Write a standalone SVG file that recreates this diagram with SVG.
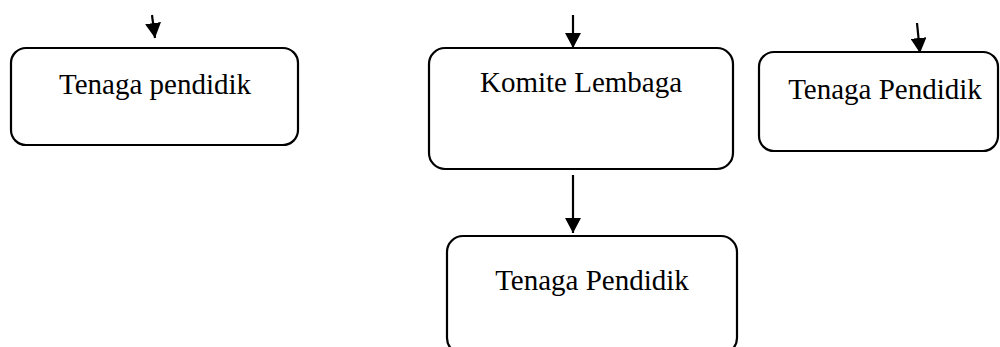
<svg xmlns="http://www.w3.org/2000/svg" width="1000" height="347" viewBox="0 0 1000 347">
<defs>
<style>
.box{fill:#fff;stroke:#000;stroke-width:2.2}
.lbl{font-family:"Liberation Serif","Times New Roman",serif;font-size:29px;fill:#000;text-anchor:middle}
.conn{stroke:#000;stroke-width:2.2;fill:none}
</style>
<marker id="ah" markerUnits="userSpaceOnUse" markerWidth="16" markerHeight="16" viewBox="0 0 16 16" refX="15" refY="8" orient="auto">
<path d="M0,0 L15,8 L0,16 z" fill="#000"/>
</marker>
</defs>
<rect width="1000" height="347" fill="#fff"/>
<g id="connectors">
<line class="conn" x1="152" y1="15" x2="155" y2="38" marker-end="url(#ah)"/>
<line class="conn" x1="573" y1="15" x2="573" y2="48" marker-end="url(#ah)"/>
<line class="conn" x1="917" y1="23" x2="920" y2="53" marker-end="url(#ah)"/>
<line class="conn" x1="573" y1="175" x2="573" y2="233" marker-end="url(#ah)"/>
</g>
<g id="node-tenaga-pendidik-1">
<rect class="box" x="11" y="48" width="287" height="97" rx="15"/>
<text class="lbl" x="155" y="94">Tenaga pendidik</text>
</g>
<g id="node-komite-lembaga">
<rect class="box" x="429" y="48" width="304" height="121" rx="16"/>
<text class="lbl" x="581" y="92">Komite Lembaga</text>
</g>
<g id="node-tenaga-pendidik-2">
<rect class="box" x="759" y="52" width="239" height="99" rx="15"/>
<text class="lbl" x="885" y="99">Tenaga Pendidik</text>
</g>
<g id="node-tenaga-pendidik-3">
<rect class="box" x="447" y="236" width="290" height="118" rx="16"/>
<text class="lbl" x="592" y="290">Tenaga Pendidik</text>
</g>
</svg>
